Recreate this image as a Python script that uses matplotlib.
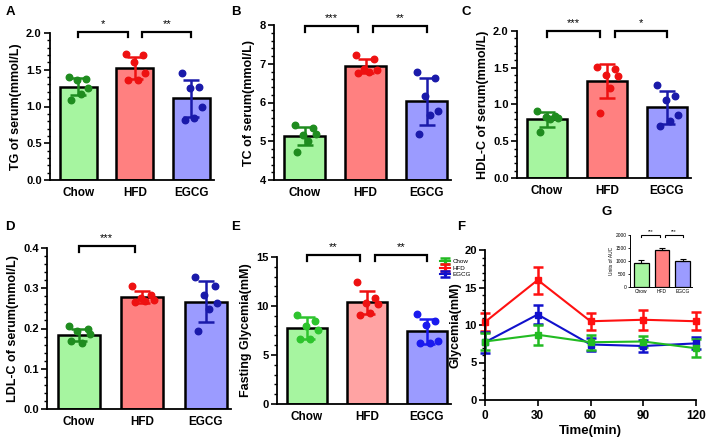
import matplotlib
matplotlib.use("Agg")
import matplotlib.pyplot as plt
import numpy as np
from matplotlib.ticker import MultipleLocator, FormatStrFormatter

plt.rcParams["font.family"] = ["Liberation Sans", "DejaVu Sans"]

groups = ["Chow", "HFD", "EGCG"]

tg_mean = [1.27, 1.53, 1.11]
tg_sd = [0.12, 0.15, 0.25]
tg_pts = [[1.40, 1.38, 1.36, 1.25, 1.17, 1.09],
          [1.72, 1.70, 1.60, 1.45, 1.36, 1.36],
          [1.45, 1.27, 1.25, 1.00, 0.85, 0.82]]

tc_mean = [5.14, 6.93, 6.03]
tc_sd = [0.23, 0.18, 0.60]
tc_pts = [[5.42, 5.35, 5.16, 5.20, 5.00, 4.73],
          [7.22, 7.12, 6.87, 6.85, 6.78, 6.75],
          [6.78, 6.62, 6.18, 5.77, 5.68, 5.18]]

hdl_mean = [0.80, 1.32, 0.96]
hdl_sd = [0.10, 0.23, 0.22]
hdl_pts = [[0.91, 0.84, 0.83, 0.82, 0.80, 0.63],
           [1.51, 1.48, 1.40, 1.39, 1.23, 0.88],
           [1.27, 1.12, 1.06, 0.86, 0.77, 0.71]]

ldl_mean = [0.184, 0.279, 0.267]
ldl_sd = [0.015, 0.015, 0.050]
ldl_pts = [[0.205, 0.200, 0.193, 0.186, 0.163, 0.168],
           [0.306, 0.284, 0.277, 0.271, 0.269, 0.267],
           [0.327, 0.306, 0.284, 0.263, 0.248, 0.193]]

fg_mean = [7.75, 10.37, 7.40]
fg_sd = [1.10, 1.20, 1.25]
fg_pts = [[9.1, 8.5, 8.0, 7.6, 6.6, 6.6],
          [12.5, 10.85, 10.27, 10.17, 9.25, 9.08],
          [9.15, 8.47, 8.07, 6.4, 6.2, 6.2]]

time_min = [0, 30, 60, 90, 120]
ogtt_chow = [7.8, 8.7, 7.7, 7.8, 6.9]
ogtt_chow_sd = [1.1, 1.3, 1.0, 0.7, 1.2]
ogtt_hfd = [10.4, 16.0, 10.5, 10.7, 10.5]
ogtt_hfd_sd = [1.2, 1.8, 1.1, 1.3, 1.2]
ogtt_egcg = [7.7, 11.4, 7.4, 7.2, 7.55]
ogtt_egcg_sd = [1.4, 1.3, 0.9, 0.8, 0.8]

auc_mean = [930, 1420, 995]
auc_sd = [100, 90, 100]

fill_cols = ["#a6f5a0", "#ff8080", "#9b9bff"]
dot_cols = ["#1f8c1f", "#ee1111", "#1a1aaa"]

# horizontal scatter of the dots around each bar centre
jitter = [-0.16, 0.14, -0.02, 0.18, 0.05, -0.12]

W, H = 708, 441
fig = plt.figure(figsize=(W / 100, H / 100), dpi=100)


def box(l, t, r, b):
    return fig.add_axes([l / W, 1 - b / H, (r - l) / W, (b - t) / H])


def style(ax, ticksize=8):
    for s in ["top", "right"]:
        ax.spines[s].set_visible(False)
    for s in ["left", "bottom"]:
        ax.spines[s].set_linewidth(1.3)
    ax.tick_params(axis="y", which="major", width=1.2, length=4, labelsize=ticksize, pad=2)
    ax.tick_params(axis="y", which="minor", width=1.0, length=2.5)
    for lab in ax.get_yticklabels() + ax.get_xticklabels():
        lab.set_fontweight("bold")


def bar_panel(ax, means, sds, pts, ylim, major, minor, ylabel, fills=fill_cols, dots=dot_cols):
    x = np.arange(3)
    ax.bar(x, [m - ylim[0] for m in means], bottom=ylim[0], width=0.66,
           color=fills, edgecolor="black", linewidth=1.8, zorder=2)
    for i in range(3):
        ax.errorbar(x[i], means[i], yerr=sds[i], color=dots[i], capsize=5.5,
                    capthick=1.8, elinewidth=1.8, zorder=4)
        ax.scatter(x[i] + np.array(jitter[:len(pts[i])]), pts[i], s=22,
                   color=dots[i], zorder=5, clip_on=False)
    ax.set_xlim(-0.5, 2.4)
    ax.set_ylim(*ylim)
    ax.set_xticks(x)
    ax.set_xticklabels(groups)
    ax.tick_params(axis="x", length=0, labelsize=8.5, pad=5)
    ax.yaxis.set_major_locator(MultipleLocator(major))
    ax.yaxis.set_minor_locator(MultipleLocator(minor))
    ax.set_ylabel(ylabel, fontsize=9, fontweight="bold", labelpad=3)
    style(ax)


def bracket(ax, x1, x2, y, h, text, fs=8, lw=1.6):
    ax.plot([x1, x1, x2, x2], [y - h, y, y, y - h], color="black", lw=lw,
            clip_on=False, solid_joinstyle="miter")
    ax.text((x1 + x2) / 2, y + h * 0.5, text, ha="center", va="bottom",
            fontsize=fs, clip_on=False)


# A
axA = box(50, 33, 214, 180)
bar_panel(axA, tg_mean, tg_sd, tg_pts, (0, 2.0), 0.5, 0.1, "TG of serum(mmol/L)")
axA.yaxis.set_major_formatter(FormatStrFormatter("%.1f"))
bracket(axA, 0, 0.88, 2.02, 0.08, "*")
bracket(axA, 1.13, 2.0, 2.02, 0.08, "**")

# B
axB = box(274, 25, 451, 180)
bar_panel(axB, tc_mean, tc_sd, tc_pts, (4, 8), 1, 0.2, "TC of serum(mmol/L)")
bracket(axB, 0, 0.88, 7.97, 0.16, "***")
bracket(axB, 1.13, 2.0, 7.97, 0.16, "**")

# C
axC = box(517, 31, 691, 178)
bar_panel(axC, hdl_mean, hdl_sd, hdl_pts, (0, 2.0), 0.5, 0.1, "HDL-C of serum(mmol/L)")
axC.yaxis.set_major_formatter(FormatStrFormatter("%.1f"))
bracket(axC, 0, 0.88, 2.0, 0.08, "***")
bracket(axC, 1.13, 2.0, 2.0, 0.08, "*")

# D
axD = box(47, 248, 231, 409)
bar_panel(axD, ldl_mean, ldl_sd, ldl_pts, (0, 0.4), 0.1, 0.02, "LDL-C of serum(mmol/L)")
axD.yaxis.set_major_formatter(FormatStrFormatter("%.1f"))
bracket(axD, 0, 0.88, 0.405, 0.016, "***")

# E
fills_e = ["#a6f5a0", "#ffa3a3", "#9b9bff"]
dots_e = ["#2ec42e", "#ee1111", "#1a1aee"]
axE = box(277, 257, 451, 404)
bar_panel(axE, fg_mean, fg_sd, fg_pts, (0, 15), 5, 1, "Fasting Glycemia(mM)",
          fills=fills_e, dots=dots_e)
bracket(axE, 0, 0.88, 15.2, 0.6, "**")
bracket(axE, 1.13, 2.0, 15.2, 0.6, "**")

# F
axF = box(485, 250, 696, 400)
line_cols = ["#22bb22", "#ff1111", "#1111cc"]
for vals, sds, c, lab in [(ogtt_hfd, ogtt_hfd_sd, line_cols[1], "HFD"),
                          (ogtt_egcg, ogtt_egcg_sd, line_cols[2], "EGCG"),
                          (ogtt_chow, ogtt_chow_sd, line_cols[0], "Chow")]:
    axF.errorbar(time_min, vals, yerr=sds, color=c, marker="s", markersize=4.5,
                 lw=1.5, capsize=3.5, capthick=1.8, elinewidth=1.8, clip_on=False, label=lab)
axF.set_xlim(0, 120)
axF.set_ylim(0, 20)
axF.set_xticks(time_min)
axF.yaxis.set_major_locator(MultipleLocator(5))
axF.yaxis.set_minor_locator(MultipleLocator(1))
axF.tick_params(axis="x", width=1.2, length=4, labelsize=8.5)
axF.set_xlabel("Time(min)", fontsize=9.5, fontweight="bold", labelpad=2)
axF.set_ylabel("Glycemia(mM)", fontsize=9, fontweight="bold", labelpad=2)
style(axF)

# legend for F (sits at the right edge of panel E, as in the original)
handles, labels = axF.get_legend_handles_labels()
order = [2, 0, 1]
fig.legend([handles[i] for i in order], [labels[i] for i in order],
           loc="upper left", bbox_to_anchor=(436 / W, 1 - 255 / H), frameon=False,
           fontsize=4.5, handlelength=1.6, markerscale=0.4, labelspacing=0.2,
           borderpad=0.1, handletextpad=0.5)

# G inset
axG = box(630, 235, 692, 287)
xg = np.arange(3)
axG.bar(xg, auc_mean, width=0.72, color=fill_cols, edgecolor="black", linewidth=0.9)
axG.errorbar(xg, auc_mean, yerr=[[0, 0, 0], auc_sd], fmt="none", ecolor="black",
             capsize=2, elinewidth=0.8, capthick=0.8)
axG.set_xlim(-0.55, 2.45)
axG.set_ylim(0, 2000)
axG.set_xticks(xg)
axG.set_xticklabels(groups)
axG.set_yticks([0, 500, 1000, 1500, 2000])
for s in ["top", "right"]:
    axG.spines[s].set_visible(False)
for s in ["left", "bottom"]:
    axG.spines[s].set_linewidth(0.7)
axG.tick_params(axis="y", labelsize=3.5, width=0.6, length=1.5, pad=1)
axG.tick_params(axis="x", labelsize=3.5, length=0, pad=1.5)
axG.set_ylabel("Units of AUC", fontsize=3.5, labelpad=1)
bracket(axG, 0, 0.88, 2000, 70, "***", fs=3.5, lw=0.8)
bracket(axG, 1.13, 2.0, 2000, 70, "***", fs=3.5, lw=0.8)

# panel letters
for letter, (px, py) in {"A": (10, 12), "B": (236, 12), "C": (466, 12),
                         "D": (10, 227), "E": (236, 227), "F": (461, 227),
                         "G": (607, 212)}.items():
    fig.text(px / W, 1 - py / H, letter, fontsize=9.5, fontweight="bold",
             ha="center", va="center")

fig.savefig("out.png", dpi=100)
